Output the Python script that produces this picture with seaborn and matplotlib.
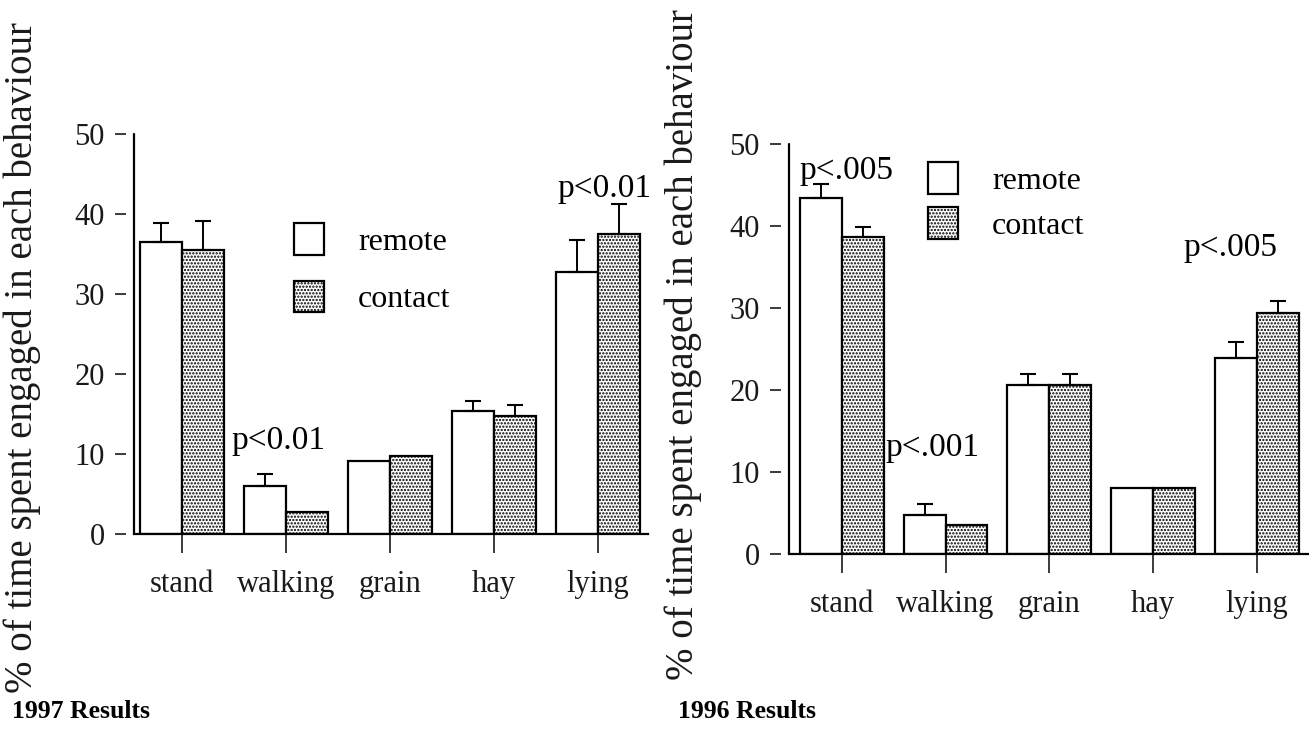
import numpy as np
import pandas as pd
import matplotlib
matplotlib.use('Agg')
import matplotlib.pyplot as plt
import matplotlib.patches as mpatches
import seaborn as sns

behaviours = ['stand', 'walking', 'grain', 'hay', 'lying']
groups = ['remote', 'contact']
y_ticks = [0, 10, 20, 30, 40, 50]
ylabel = '% of time spent engaged in each behaviour'

# 1997 results (bar tops and error bar tops, % of time)
remote_97 = [36.5, 6.0, 9.1, 15.4, 32.8]
contact_97 = [35.5, 2.8, 9.8, 14.8, 37.5]
remote_97_err = [38.9, 7.5, np.nan, 16.6, 36.8]
contact_97_err = [39.1, np.nan, np.nan, 16.1, 41.2]

# 1996 results
remote_96 = [43.4, 4.8, 20.6, 8.0, 23.9]
contact_96 = [38.6, 3.5, 20.6, 8.0, 29.4]
remote_96_err = [45.1, 6.1, 22.0, np.nan, 25.8]
contact_96_err = [39.9, np.nan, 21.9, np.nan, 30.8]

HATCH = '.....'
W, H = 1309, 731

sns.set_style('white')
plt.rcParams['font.family'] = ['Liberation Serif', 'DejaVu Serif']
plt.rcParams['hatch.linewidth'] = 1.1
plt.rcParams['text.color'] = 'black'


def draw_panel(ax, remote, contact, remote_err, contact_err, xlim):
    df = pd.DataFrame({'behaviour': behaviours * 2,
                       'group': ['remote'] * 5 + ['contact'] * 5,
                       'value': remote + contact})
    sns.barplot(data=df, x='behaviour', y='value', hue='group',
                order=behaviours, hue_order=groups,
                palette=['white', 'white'], edgecolor='black', linewidth=1.6,
                width=0.808, gap=0, errorbar=None, legend=False, ax=ax)
    for bar in ax.containers[1]:
        bar.set_hatch(HATCH)
    # one-sided error bars (upper only)
    for cont, tops in zip(ax.containers, [remote_err, contact_err]):
        for bar, top in zip(cont, tops):
            if np.isnan(top):
                continue
            x = bar.get_x() + bar.get_width() / 2
            h = bar.get_height()
            ax.errorbar(x, h, yerr=[[0], [top - h]], fmt='none', ecolor='black',
                        elinewidth=1.4, capsize=6, capthick=1.5)
    ax.set_ylim(0, 50)
    ax.set_xlim(*xlim)
    ax.set_yticks(y_ticks)
    ax.set_xlabel('')
    ax.set_ylabel('')
    for s in ['top', 'right']:
        ax.spines[s].set_visible(False)
    ax.spines['bottom'].set_linewidth(1.6)
    ax.spines['bottom'].set_color('black')
    # ticks sit a little away from the y axis line
    ax.spines['left'].set_position(('outward', 6))
    ax.spines['left'].set_visible(False)
    ax.axvline(xlim[0], color='black', lw=1.6, clip_on=False)
    ax.tick_params(axis='y', direction='out', length=8, width=1.2, pad=7,
                   labelsize=22, left=True, colors='#1a1a1a')
    ax.tick_params(axis='x', direction='out', length=14, width=1.2, pad=12,
                   labelsize=22, bottom=True, colors='#1a1a1a')


def add_legend(fig, x, y, spacing):
    handles = [mpatches.Patch(facecolor='white', edgecolor='black', lw=1.6, label='remote'),
               mpatches.Patch(facecolor='white', edgecolor='black', lw=1.6,
                              hatch=HATCH, label='contact')]
    fig.legend(handles=handles, loc='upper left', bbox_to_anchor=(x / W, 1 - y / H),
               frameon=False, fontsize=23, handlelength=0.95, handleheight=1.15,
               handletextpad=1.05, labelspacing=spacing, borderpad=0, borderaxespad=0)


fig = plt.figure(figsize=(W / 100, H / 100), dpi=100)

ax1 = fig.add_axes([134 / W, 1 - 534 / H, 514 / W, 400 / H])
draw_panel(ax1, remote_97, contact_97, remote_97_err, contact_97_err, (-0.46, 4.48))
ax1.text(0.48, 10.6, 'p<0.01', fontsize=24, va='baseline', ha='left')
ax1.text(3.61, 42.1, 'p<0.01', fontsize=24, va='baseline', ha='left')
add_legend(fig, 294, 223, 0.75)

ax2 = fig.add_axes([789 / W, 1 - 554 / H, 520 / W, 410 / H])
draw_panel(ax2, remote_96, contact_96, remote_96_err, contact_96_err, (-0.507, 4.5))
ax2.text(-0.41, 45.7, 'p<.005', fontsize=24, va='baseline', ha='left')
ax2.text(0.42, 12.0, 'p<.001', fontsize=24, va='baseline', ha='left')
ax2.text(3.29, 36.3, 'p<.005', fontsize=24, va='baseline', ha='left')
add_legend(fig, 928, 162, 0.37)

fig.text(22 / W, 1 - 358 / H, ylabel, rotation=90, ha='center', va='center',
         fontsize=28, color='#1a1a1a')
fig.text(683 / W, 1 - 345 / H, ylabel, rotation=90, ha='center', va='center',
         fontsize=28, color='#1a1a1a')

fig.text(12 / W, 1 - 712 / H, '1997 Results', fontsize=18.5, fontweight='bold', va='center')
fig.text(678 / W, 1 - 712 / H, '1996 Results', fontsize=18.5, fontweight='bold', va='center')

fig.savefig('out.png', dpi=100)
